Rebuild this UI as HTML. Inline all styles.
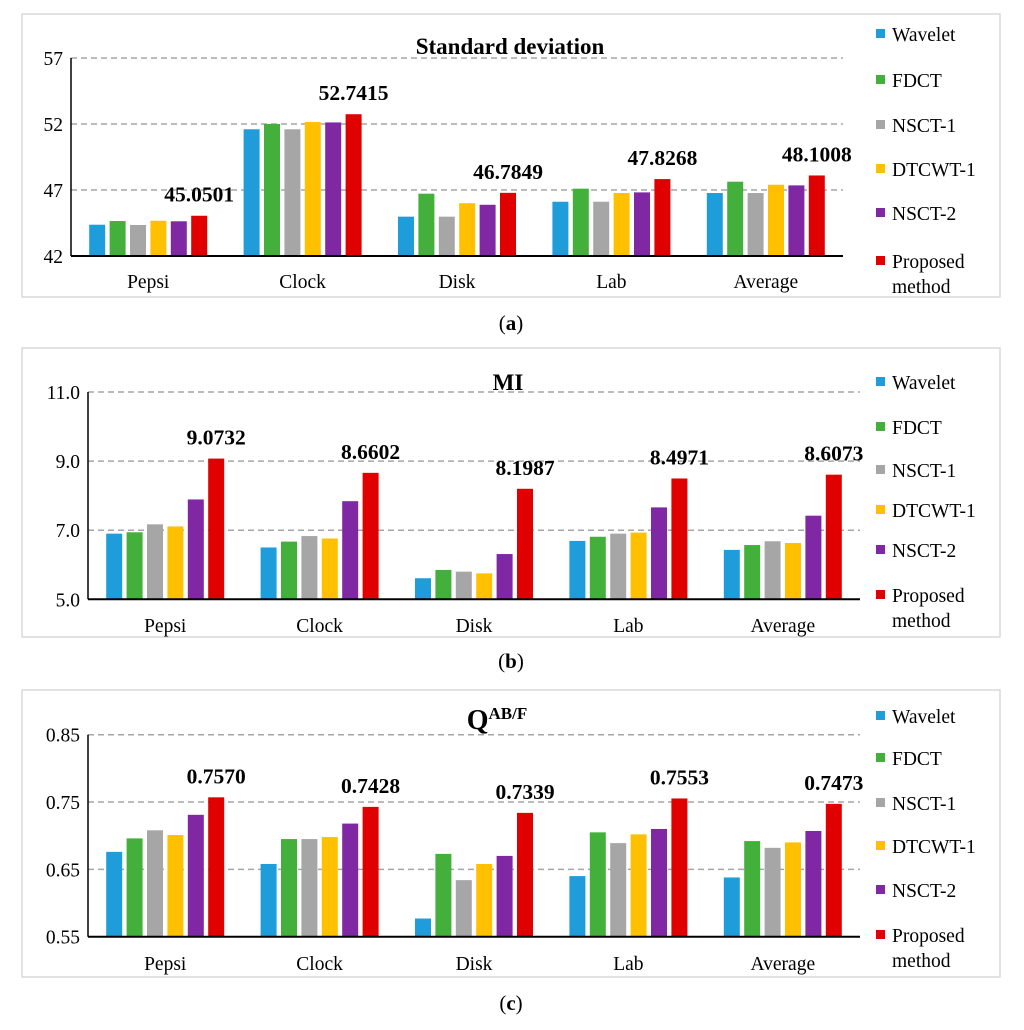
<!DOCTYPE html>
<html><head><meta charset="utf-8">
<style>
body{margin:0;background:#fff;}
svg{display:block;font-family:"Liberation Serif",serif;}
</style></head>
<body>
<svg id="chart" width="1024" height="1030" viewBox="0 0 1024 1030" xmlns="http://www.w3.org/2000/svg"></svg>
<script>
const categories = ["Pepsi","Clock","Disk","Lab","Average"];
const seriesNames = ["Wavelet","FDCT","NSCT-1","DTCWT-1","NSCT-2","Proposed method"];
const colors = ["#1f9ddb","#43b03c","#a6a6a6","#ffc000","#8028a4","#e00000"];

const sdWavelet = [44.37,51.6,44.98,46.11,46.77];
const sdFDCT = [44.65,52.0,46.72,47.1,47.63];
const sdNSCT1 = [44.35,51.6,44.98,46.11,46.77];
const sdDTCWT1 = [44.67,52.15,46.0,46.77,47.4];
const sdNSCT2 = [44.63,52.12,45.88,46.82,47.35];
const sdProposed = [45.0501,52.7415,46.7849,47.8268,48.1008];
const sdTicks = ["42","47","52","57"];

const miWavelet = [6.90,6.50,5.61,6.69,6.43];
const miFDCT = [6.94,6.67,5.85,6.81,6.57];
const miNSCT1 = [7.17,6.83,5.80,6.90,6.68];
const miDTCWT1 = [7.11,6.76,5.75,6.93,6.63];
const miNSCT2 = [7.89,7.84,6.31,7.66,7.42];
const miProposed = [9.0732,8.6602,8.1987,8.4971,8.6073];
const miTicks = ["5.0","7.0","9.0","11.0"];

const qWavelet = [0.676,0.658,0.577,0.640,0.638];
const qFDCT = [0.696,0.695,0.673,0.705,0.692];
const qNSCT1 = [0.708,0.695,0.634,0.689,0.682];
const qDTCWT1 = [0.701,0.698,0.658,0.702,0.690];
const qNSCT2 = [0.731,0.718,0.670,0.710,0.707];
const qProposed = [0.7570,0.7428,0.7339,0.7553,0.7473];
const qTicks = ["0.55","0.65","0.75","0.85"];

const NS="http://www.w3.org/2000/svg";
const svg=document.getElementById('chart');
function mk(tag,attrs,parent){const e=document.createElementNS(NS,tag);for(const k in attrs)e.setAttribute(k,attrs[k]);(parent||svg).appendChild(e);return e;}

const panels=[
 {name:'std',data:[sdWavelet,sdFDCT,sdNSCT1,sdDTCWT1,sdNSCT2,sdProposed],ticks:sdTicks,dec:4,
  frame:[22,14,1000,297],x0:71,x1:843,yTop:58,yBot:256,title:"Standard deviation",titleY:54,catY:288,cap:"a",capY:330,legY:[34,80,125,169,213,261]},
 {name:'mi',data:[miWavelet,miFDCT,miNSCT1,miDTCWT1,miNSCT2,miProposed],ticks:miTicks,dec:4,
  frame:[22,348,1000,637],x0:88,x1:860,yTop:392,yBot:599.3,title:"MI",titleY:390,catY:632,cap:"b",capY:668,legY:[382,427,470,510,550,595]},
 {name:'qabf',data:[qWavelet,qFDCT,qNSCT1,qDTCWT1,qNSCT2,qProposed],ticks:qTicks,dec:4,
  frame:[22,690,1000,977],x0:88,x1:860,yTop:734.7,yBot:936.7,title:"Q",titleY:729,catY:970,cap:"c",capY:1010,legY:[716,758,803,846,890,935]}
];

panels.forEach(p=>{
  const g=mk('g',{});
  
  
  const [fx0,fy0,fx1,fy1]=p.frame;
  const fr=mk('rect',{x:fx0,y:fy0,width:fx1-fx0,height:fy1-fy0,fill:'#fff',stroke:'#d9d9d9','stroke-width':1.5},g);
  
  
  const tv=p.ticks.map(Number);
  const vmin=tv[0],vmax=tv[tv.length-1];
  const yS=v=>p.yBot-(v-vmin)/(vmax-vmin)*(p.yBot-p.yTop);
  p.ticks.forEach((t,i)=>{
    const y=yS(Number(t));
    if(i>0){const gl=mk('line',{x1:p.x0,x2:p.x1,y1:y,y2:y,stroke:'#a6a6a6','stroke-width':1.5,'stroke-dasharray':'6,4'},g);
      
      }
    const tl=mk('text',{x:p.x0-8,y:y+7,'text-anchor':'end','font-size':19.5,fill:'#000'},g);
    tl.textContent=t;
    
    
  });
  const catW=(p.x1-p.x0)/categories.length;
  const barW=16,step=20.4;
  const groupW=step*5+barW;
  categories.forEach((c,ci)=>{
    const cx=p.x0+catW*(ci+0.5);
    const start=cx-groupW/2;
    p.data.forEach((arr,si)=>{
      const v=arr[ci];
      const x=start+si*step;
      const y=yS(v);
      const b=mk('rect',{x:x,y:y,width:barW,height:p.yBot-y,fill:colors[si]},g);
      
      
      if(si===5){
        const vl=mk('text',{x:x+barW/2,y:y-14,'text-anchor':'middle','font-size':21.5,'font-weight':'bold',fill:'#000'},g);
        vl.textContent=v.toFixed(p.dec);
        
        
      }
    });
    const cl=mk('text',{x:cx,y:p.catY,'text-anchor':'middle','font-size':19.5,fill:'#000'},g);
    cl.textContent=c;
    
    
  });
  mk('line',{x1:p.x0,x2:p.x0,y1:p.yTop,y2:p.yBot,stroke:'#000','stroke-width':1.5},g);
  const ax=mk('line',{x1:p.x0,x2:p.x1,y1:p.yBot,y2:p.yBot,stroke:'#000','stroke-width':2},g);
  
  
  const tt=mk('text',{x:p.name==='std'?510:(p.name==='mi'?508:497),y:p.titleY,'text-anchor':'middle','font-size':p.name==='qabf'?28:23,'font-weight':'bold',fill:'#000'},g);
  tt.textContent=p.title;
  if(p.name==='qabf'){const sp=mk('tspan',{'font-size':17,dy:-10},tt);sp.textContent='AB/F';}
  
  
  seriesNames.forEach((s,si)=>{
    const ly=p.legY[si];
    const sq=mk('rect',{x:876,y:ly-5,width:9,height:9,fill:colors[si]},g);
    
    
    const lt=mk('text',{x:892,y:ly+7,'font-size':19.5,fill:'#000'},g);
    
    
    if(si===5){lt.textContent='Proposed';const t2=mk('text',{x:892,y:ly+32,'font-size':19.5,fill:'#000'},g);t2.textContent='method';}
    else lt.textContent=s;
  });
  const cap=mk('text',{x:511,y:p.capY,'text-anchor':'middle','font-size':21,fill:'#000'},g);
  
  
  cap.textContent='(';
  const cb=mk('tspan',{'font-weight':'bold'},cap);cb.textContent=p.cap;
  const ce=mk('tspan',{},cap);ce.textContent=')';
});
</script>
</body></html>
